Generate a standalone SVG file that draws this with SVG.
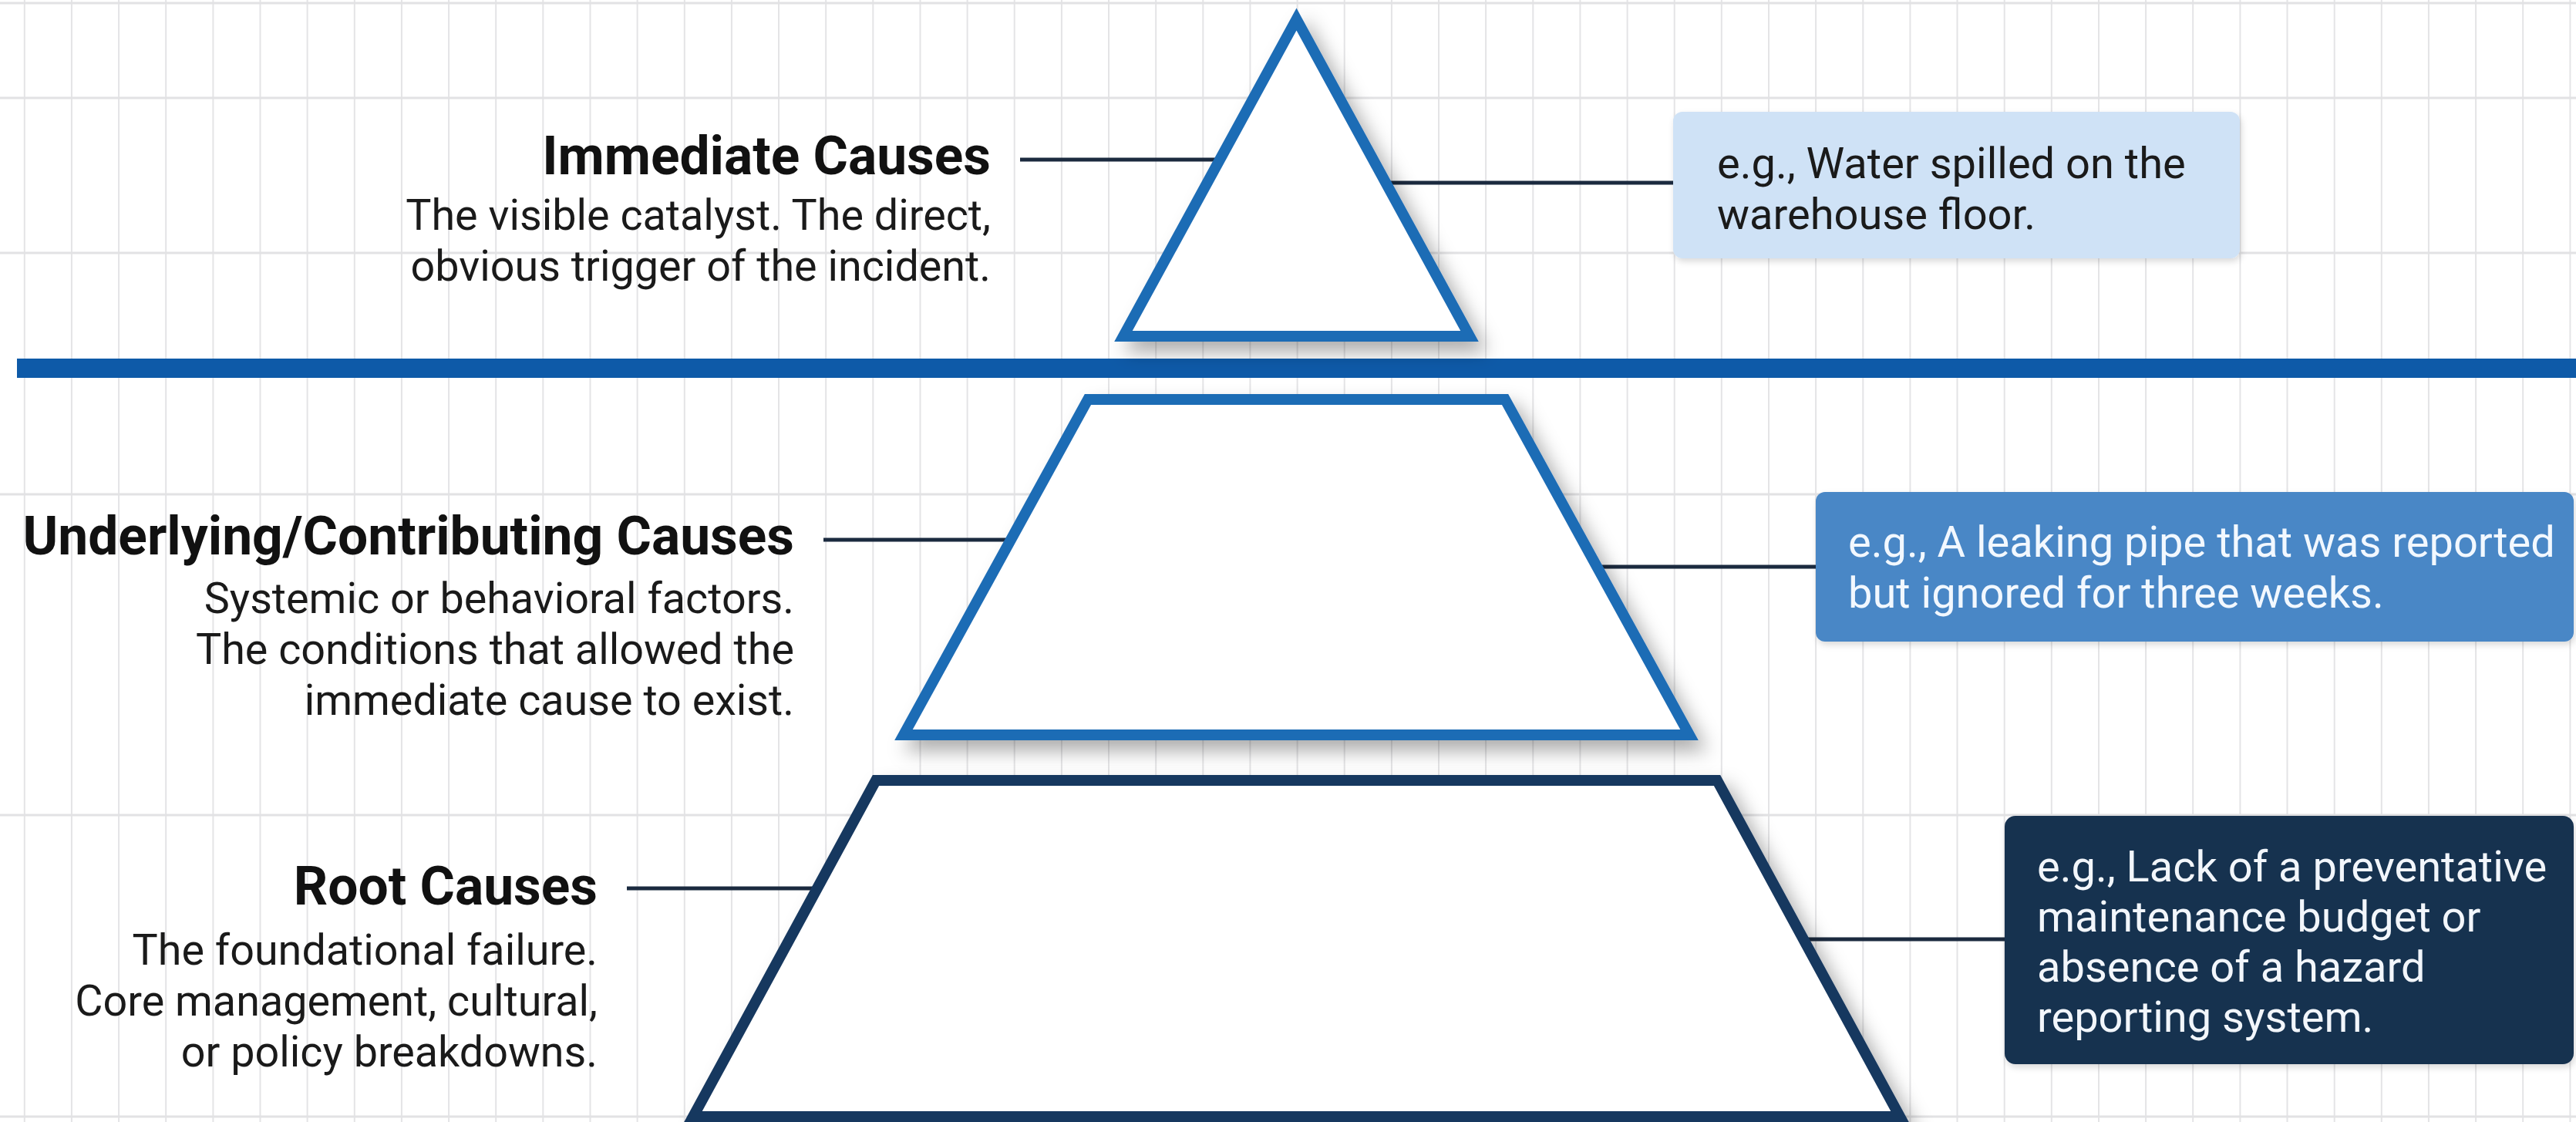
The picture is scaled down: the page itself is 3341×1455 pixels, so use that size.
<svg xmlns="http://www.w3.org/2000/svg" width="3341" height="1455" viewBox="0 0 3341 1455">
<style>
.vg{stroke:#e4e4e6;stroke-width:2}
.hg{stroke:#e2e2e4;stroke-width:3}
.tier{fill:#ffffff;stroke-width:14;stroke-linejoin:miter;filter:url(#sh)}
.blue{stroke:#1f6cb5}
.navy{stroke:#16375f}
.conn{stroke:#1b2a3f;stroke-width:5;fill:none}
.head{font-family:Roboto,"Liberation Sans",sans-serif;font-weight:700;font-size:69.5px;fill:#111111;text-anchor:end}
.desc{font-family:Roboto,"Liberation Sans",sans-serif;font-size:55.7px;fill:#1a1a1a;text-anchor:end}
.btxt{font-family:Roboto,"Liberation Sans",sans-serif;font-size:56px}
</style>
<defs>
<filter id="sh" x="-20%" y="-20%" width="140%" height="140%">
<feDropShadow dx="12" dy="14" stdDeviation="12" flood-color="#000" flood-opacity="0.32"/>
</filter>
<filter id="bs" x="-10%" y="-10%" width="120%" height="130%">
<feDropShadow dx="2" dy="4" stdDeviation="4" flood-color="#000" flood-opacity="0.15"/>
</filter>
</defs>
<rect x="0" y="0" width="3341" height="1455" fill="#ffffff"/>
<g id="grid">
<path class="vg" d="M31.8 0V1455M92.9 0V1455M154.1 0V1455M215.2 0V1455M276.4 0V1455M337.5 0V1455M398.6 0V1455M459.8 0V1455M520.9 0V1455M582.1 0V1455M643.2 0V1455M704.3 0V1455M765.5 0V1455M826.6 0V1455M887.8 0V1455M948.9 0V1455M1010 0V1455M1071.2 0V1455M1132.3 0V1455M1193.5 0V1455M1254.6 0V1455M1315.7 0V1455M1376.9 0V1455M1438 0V1455M1499.2 0V1455M1560.3 0V1455M1621.4 0V1455M1682.6 0V1455M1743.7 0V1455M1804.9 0V1455M1866 0V1455M1927.1 0V1455M1988.3 0V1455M2049.4 0V1455M2110.6 0V1455M2171.7 0V1455M2232.8 0V1455M2294 0V1455M2355.1 0V1455M2416.3 0V1455M2477.4 0V1455M2538.5 0V1455M2599.7 0V1455M2660.8 0V1455M2722 0V1455M2783.1 0V1455M2844.2 0V1455M2905.4 0V1455M2966.5 0V1455M3027.7 0V1455M3088.8 0V1455M3149.9 0V1455M3211.1 0V1455M3272.2 0V1455M3333.4 0V1455"/>
<path class="hg" d="M0 4H3341M0 127H3341M0 328H3341M0 641H3341M0 1057H3341M0 1448H3341"/>
</g>
<rect id="divider" x="22" y="465" width="3319" height="25" fill="#0e5aa8"/>
<g id="connectors">
<line class="conn" x1="1323" y1="207" x2="1580" y2="207"/>
<line class="conn" x1="1800" y1="237" x2="2172" y2="237"/>
<line class="conn" x1="1068" y1="700" x2="1308" y2="700"/>
<line class="conn" x1="2072" y1="735" x2="2357" y2="735"/>
<line class="conn" x1="813" y1="1152" x2="1057" y2="1152"/>
<line class="conn" x1="2340" y1="1218" x2="2602" y2="1218"/>
</g>
<g id="tier-immediate">
<polygon class="tier blue" points="1681.5,25 1906,436 1457,436"/>
</g>
<g id="tier-underlying">
<polygon class="tier blue" points="1411,518 1952,518 2191,953 1172,953"/>
</g>
<g id="tier-root">
<polygon class="tier navy" points="1136,1012 2227,1012 2464,1448 899,1448"/>
</g>
<g id="label-immediate">
<text class="head" x="1285" y="226">Immediate Causes</text>
<text class="desc" x="1285" y="298">The visible catalyst. The direct,</text>
<text class="desc" x="1285" y="364">obvious trigger of the incident.</text>
</g>
<g id="label-underlying">
<text class="head" x="1030" y="719">Underlying/Contributing Causes</text>
<text class="desc" x="1030" y="795">Systemic or behavioral factors.</text>
<text class="desc" x="1030" y="861">The conditions that allowed the</text>
<text class="desc" x="1030" y="927">immediate cause to exist.</text>
</g>
<g id="label-root">
<text class="head" x="775" y="1173">Root Causes</text>
<text class="desc" x="775" y="1251">The foundational failure.</text>
<text class="desc" x="775" y="1317">Core management, cultural,</text>
<text class="desc" x="775" y="1383">or policy breakdowns.</text>
</g>
<g id="example-immediate">
<rect x="2170" y="145" width="735" height="190" rx="12" fill="#cfe2f6" filter="url(#bs)"/>
<text class="btxt" x="2227" y="231" fill="#1a1a1a">e.g., Water spilled on the</text>
<text class="btxt" x="2227" y="297" fill="#1a1a1a">warehouse floor.</text>
</g>
<g id="example-underlying">
<rect x="2355" y="638" width="983" height="194" rx="12" fill="#4a87c6" filter="url(#bs)"/>
<text class="btxt" x="2397" y="722" fill="#f2f8ff">e.g., A leaking pipe that was reported</text>
<text class="btxt" x="2397" y="788" fill="#f2f8ff">but ignored for three weeks.</text>
</g>
<g id="example-root">
<rect x="2600" y="1058" width="738" height="322" rx="14" fill="#15304f" filter="url(#bs)"/>
<text class="btxt" x="2642" y="1143" fill="#f2f6fb">e.g., Lack of a preventative</text>
<text class="btxt" x="2642" y="1208" fill="#f2f6fb">maintenance budget or</text>
<text class="btxt" x="2642" y="1273" fill="#f2f6fb">absence of a hazard</text>
<text class="btxt" x="2642" y="1338" fill="#f2f6fb">reporting system.</text>
</g>
</svg>
